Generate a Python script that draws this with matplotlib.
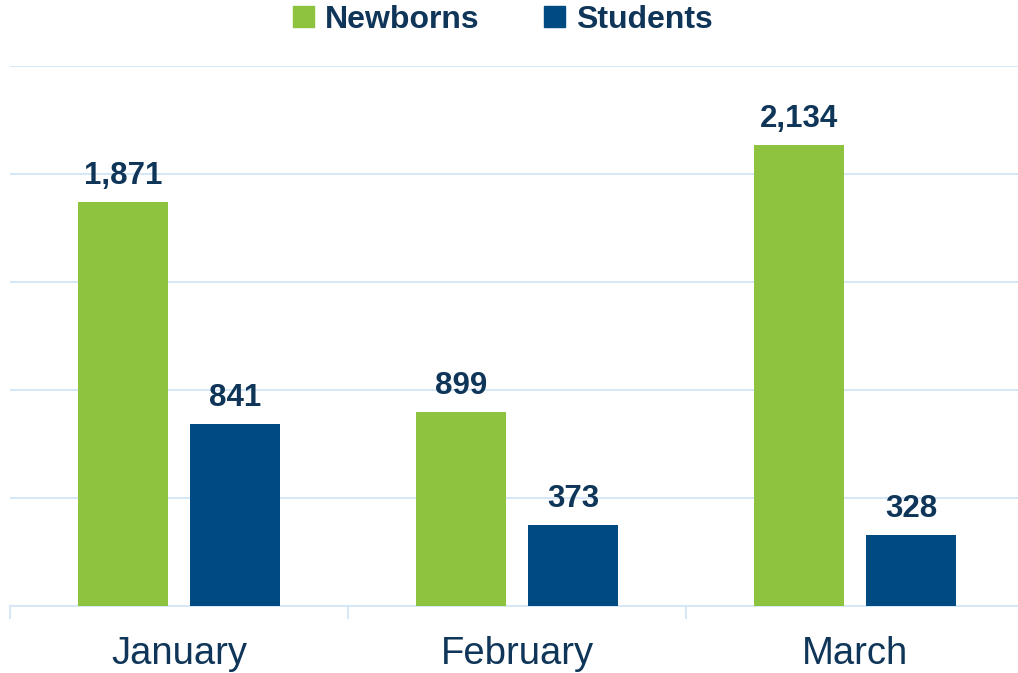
import matplotlib.pyplot as plt
from matplotlib.ticker import FixedLocator
from matplotlib.patches import Patch

months = ["January", "February", "March"]
newborns = [1871, 899, 2134]
students = [841, 373, 328]

green = "#8DC33F"
blue = "#004A82"
text_c = "#0F3558"
grid_c = "#D6E8F8"

plt.rcParams['font.family'] = ['Liberation Sans', 'DejaVu Sans']

fig = plt.figure(figsize=(10.18, 6.73), dpi=100)
ax = fig.add_axes([10/1018, 67/673, 1014/1018, 540/673])

x = list(range(len(months)))
w = 0.266
off = 0.166
b1 = ax.bar([i - off for i in x], newborns, w, color=green, zorder=3)
b2 = ax.bar([i + off for i in x], students, w, color=blue, zorder=3)

for bars, vals in ((b1, newborns), (b2, students)):
    for r, v in zip(bars, vals):
        ax.annotate(f"{v:,}", (r.get_x() + r.get_width()/2, v), xytext=(0, 8),
                    textcoords="offset points", ha="center", va="bottom",
                    fontsize=22.5, fontweight="bold", color=text_c)

ax.set_xlim(-0.5, 2.5)
ax.set_ylim(0, 2500)
ax.set_yticks([0, 500, 1000, 1500, 2000, 2500])
ax.yaxis.grid(True, color=grid_c, linewidth=1.5, zorder=0)
ax.tick_params(axis='y', left=False, labelleft=False)
ax.set_xticks(x)
ax.set_xticklabels(months, fontsize=27.5, color=text_c)
ax.tick_params(axis='x', which='major', length=0, pad=21.5)
ax.xaxis.set_minor_locator(FixedLocator([-0.5, 0.5, 1.5, 2.5]))
ax.tick_params(axis='x', which='minor', length=9, width=1.5, color=grid_c)
for s in ['top', 'right', 'left']:
    ax.spines[s].set_visible(False)
ax.spines['bottom'].set_color(grid_c)
ax.spines['bottom'].set_linewidth(1.5)

handles = [Patch(color=green, label="Newborns"), Patch(color=blue, label="Students")]
leg = fig.legend(handles=handles, loc="center", bbox_to_anchor=(503/1018, 1 - 20/673),
                 ncol=2, frameon=False, handlelength=0.65, handleheight=0.65,
                 columnspacing=2.0, handletextpad=0.35, prop={'weight': 'bold', 'size': 23})
for t in leg.get_texts():
    t.set_color(text_c)

fig.savefig("out.png", dpi=100)
